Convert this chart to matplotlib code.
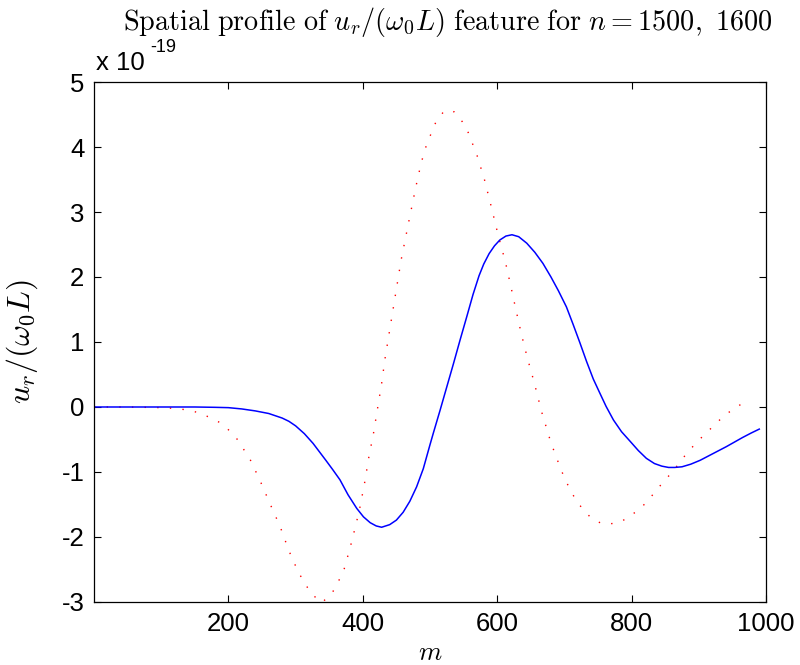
import matplotlib
matplotlib.use("Agg")
import matplotlib.pyplot as plt

plt.rcParams['mathtext.fontset'] = 'cm'
plt.rcParams['axes.unicode_minus'] = False
plt.rcParams['font.family'] = ['Liberation Sans', 'DejaVu Sans']

# Blue solid curve (n = 1600), values in units of 1e-19
m_blue = [0, 50, 100, 150, 180, 200, 220, 240, 260, 280, 290, 300, 313, 326, 345,
          355, 366, 378, 391, 401, 411, 420, 428, 440, 450, 460, 470, 480, 490, 500,
          505, 515, 525, 535, 545, 555, 564, 573, 580, 588, 596, 604, 613, 622, 632,
          644, 656, 668, 680, 691, 703, 713, 723, 733, 743, 752, 762, 773, 785, 798,
          810, 822, 834, 845, 855, 864, 875, 888, 902, 915, 928, 941, 953, 965, 978,
          990]
u_blue = [0, 0, 0, 0, -0.005, -0.01, -0.03, -0.06, -0.10, -0.17, -0.22, -0.29, -0.41,
          -0.56, -0.82, -0.96, -1.12, -1.35, -1.56, -1.69, -1.78, -1.83, -1.85, -1.81,
          -1.74, -1.62, -1.45, -1.23, -0.95, -0.58, -0.40, -0.05, 0.31, 0.67, 1.04,
          1.40, 1.73, 2.02, 2.20, 2.36, 2.48, 2.57, 2.63, 2.65, 2.62, 2.52, 2.38, 2.21,
          2.00, 1.79, 1.54, 1.27, 0.99, 0.70, 0.43, 0.23, 0.01, -0.20, -0.38, -0.53,
          -0.67, -0.79, -0.87, -0.91, -0.93, -0.93, -0.92, -0.88, -0.82, -0.75, -0.68,
          -0.61, -0.54, -0.47, -0.40, -0.34]

# Red dotted curve (n = 1500), values in units of 1e-19
m_red = [0, 50, 100, 118, 135, 153, 170, 187.5, 200, 212, 232, 247, 262, 277, 290,
         304, 323, 339, 354, 371, 381, 390, 396, 403, 409, 416, 422, 428, 433, 439,
         445, 451, 457, 468, 479, 487, 495, 509, 520, 528, 536, 548, 557, 570, 581,
         590, 602, 612, 620, 628, 636, 645, 655, 666, 680, 693, 700, 708, 717, 728,
         741, 755, 766, 780, 792, 808, 821, 833, 845, 857, 869, 880, 891, 904, 917,
         931, 945, 961, 977]
u_red = [0, 0, -0.01, -0.02, -0.04, -0.08, -0.15, -0.24, -0.35, -0.48, -0.80, -1.13,
         -1.49, -1.84, -2.21, -2.54, -2.87, -3.01, -2.87, -2.54, -2.17, -1.80, -1.53,
         -1.15, -0.77, -0.40, -0.02, 0.36, 0.74, 1.12, 1.50, 1.88, 2.26, 2.83, 3.39,
         3.76, 4.04, 4.39, 4.54, 4.57, 4.54, 4.39, 4.22, 3.87, 3.50, 3.13, 2.62, 2.24,
         1.87, 1.49, 1.12, 0.75, 0.38, -0.07, -0.55, -0.91, -1.09, -1.26, -1.43, -1.58,
         -1.72, -1.79, -1.80, -1.78, -1.72, -1.60, -1.48, -1.33, -1.18, -1.04, -0.89,
         -0.74, -0.61, -0.47, -0.34, -0.20, -0.08, 0.03, 0.11]

x_ticks = [200, 400, 600, 800, 1000]
y_ticks = [-3, -2, -1, 0, 1, 2, 3, 4, 5]

fig = plt.figure(figsize=(8, 6.65), dpi=100)
ax = fig.add_axes([0.1175, 0.09474, 0.84, 0.78195])

ax.plot(m_red, u_red, color='red', lw=1.0, linestyle=(0, (1, 8.1)))
ax.plot(m_blue, u_blue, color='blue', lw=1.1)

ax.set_xlim(0, 1000)
ax.set_ylim(-3, 5)
ax.set_xticks(x_ticks)
ax.set_yticks(y_ticks)
ax.set_xticklabels([str(t) for t in x_ticks])
ax.set_yticklabels([str(t) for t in y_ticks])
ax.tick_params(direction='in', length=5, width=0.8, labelsize=18.5,
               top=True, right=True, pad=7)
for s in ax.spines.values():
    s.set_linewidth(0.9)

ax.set_xlabel(r'$m$', fontsize=19, va='center')
ax.xaxis.set_label_coords(0.5, -0.098)
ax.set_ylabel(r'$u_r/(\omega_0L)$', fontsize=23, va='center')
ax.yaxis.set_label_coords(-0.107, 0.5)

fig.text(0.559, 1 - 22 / 665,
         r'$\mathrm{Spatial\ profile\ of\ }u_r/(\omega_0L)\mathrm{\ feature\ for\ }n=1500,\ 1600$',
         ha='center', va='center', fontsize=20.3)

# exponent label
fig.text(96 / 800, 1 - 70 / 665, 'x 10', fontsize=18.5, ha='left', va='baseline')
fig.text(150 / 800, 1 - 52 / 665, '-19', fontsize=13, ha='left', va='baseline')

fig.savefig('out.png', dpi=100)
